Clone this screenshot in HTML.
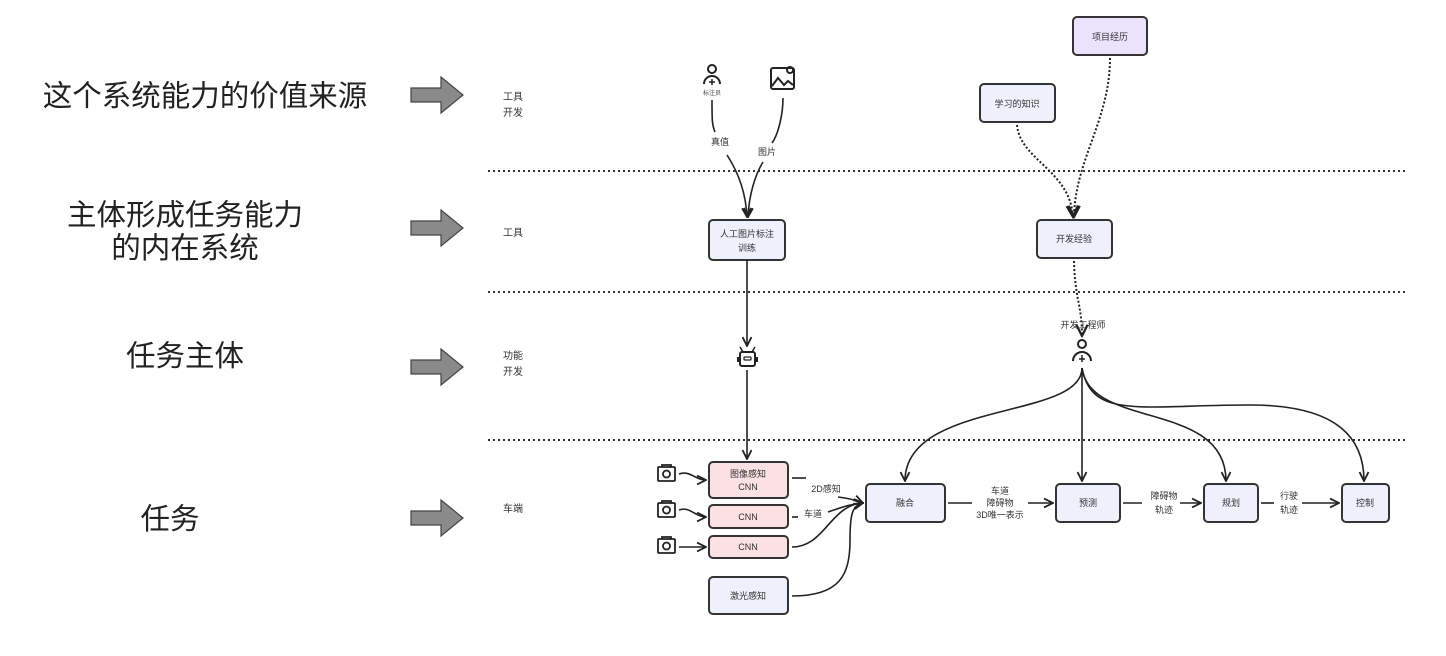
<!DOCTYPE html>
<html><head><meta charset="utf-8"><style>
html,body{margin:0;padding:0;background:#fff;}
svg{display:block;}
text{font-family:"Liberation Sans","Noto Sans CJK SC",sans-serif;}
</style></head><body>
<svg width="1446" height="656" viewBox="0 0 1446 656" xmlns="http://www.w3.org/2000/svg">
<defs>
<marker id="a" viewBox="0 0 10 10" refX="9" refY="5" markerWidth="7" markerHeight="7" orient="auto-start-reverse"><path d="M1,1 L9,5 L1,9" fill="none" stroke="#222" stroke-width="1.6"/></marker>
</defs>
<rect width="1446" height="656" fill="#fff"/>
<g font-size="29.5" fill="#222" text-anchor="middle">
<text x="205" y="106">这个系统能力的价值来源</text>
<text x="185" y="225">主体形成任务能力</text>
<text x="185" y="258">的内在系统</text>
<text x="185" y="366">任务主体</text>
<text x="170" y="529">任务</text>
</g>
<g fill="#8a8a8a" stroke="#444" stroke-width="1.2">
<path d="M411,88 H441 V77 L463,95 L441,113 V102 H411 Z"/>
<path d="M411,221 H441 V210 L463,228 L441,246 V235 H411 Z"/>
<path d="M411,360 H441 V349 L463,367 L441,385 V374 H411 Z"/>
<path d="M411,511 H441 V500 L463,518 L441,536 V525 H411 Z"/>
</g>
<g stroke="#333" stroke-width="2" stroke-dasharray="2,3">
<line x1="488" y1="171" x2="1408" y2="171"/>
<line x1="488" y1="292" x2="1408" y2="292"/>
<line x1="488" y1="440" x2="1408" y2="440"/>
</g>
<g font-size="10" fill="#333">
<text x="503" y="100">工具</text><text x="503" y="116">开发</text>
<text x="503" y="236">工具</text>
<text x="503" y="359">功能</text><text x="503" y="375">开发</text>
<text x="503" y="512">车端</text>
</g>
<g fill="none" stroke="#222" stroke-width="2">
<circle cx="712" cy="69" r="4"/>
<path d="M704,84 A8,8 0 0 1 720,84"/>
<path d="M712,79 V85 M709,82 H715" stroke-width="1.5"/>
<rect x="771" y="68" width="23" height="21" rx="2"/>
<path d="M772,86 L778,78 L784,85 L788,81 L793,85"/>
<circle cx="790" cy="70" r="3"/>
<rect x="740" y="352" width="15" height="14" rx="2"/>
<rect x="744" y="357" width="7" height="3" rx="1" stroke-width="1.3"/>
<path d="M743,352 L740,347 M752,352 L755,347" stroke-width="1.5"/>
<path d="M738,357 V362 M757,357 V362"/>
<circle cx="1082" cy="344" r="4"/>
<path d="M1073,361 A9,9 0 0 1 1091,361"/>
<path d="M1082,355 V362 M1079,359 H1085" stroke-width="1.5"/>
<g stroke-width="1.8">
<rect x="658" y="467" width="17" height="14" rx="1"/><circle cx="666.5" cy="474" r="3.5"/><path d="M662,467 V465 H671 V467"/>
<rect x="658" y="503" width="17" height="14" rx="1"/><circle cx="666.5" cy="510" r="3.5"/><path d="M662,503 V501 H671 V503"/>
<rect x="658" y="539" width="17" height="14" rx="1"/><circle cx="666.5" cy="546" r="3.5"/><path d="M662,539 V537 H671 V539"/>
</g>
</g>
<text x="712" y="95" font-size="6" fill="#444" text-anchor="middle">标注员</text>
<g stroke="#333" stroke-width="2">
<rect x="709" y="220" width="76" height="40" rx="4" fill="#eef0fb"/>
<rect x="709" y="462" width="79" height="36" rx="4" fill="#fbe1e3"/>
<rect x="709" y="505" width="79" height="23" rx="4" fill="#fbe1e3"/>
<rect x="709" y="536" width="79" height="22" rx="4" fill="#fbe1e3"/>
<rect x="709" y="577" width="79" height="37" rx="4" fill="#eef0fb"/>
<rect x="866" y="484" width="79" height="38" rx="4" fill="#eef0fb"/>
<rect x="1056" y="484" width="64" height="38" rx="4" fill="#eef0fb"/>
<rect x="1204" y="484" width="54" height="38" rx="4" fill="#eef0fb"/>
<rect x="1342" y="484" width="47" height="38" rx="4" fill="#eef0fb"/>
<rect x="1073" y="17" width="74" height="38" rx="4" fill="#ebe2fb"/>
<rect x="980" y="84" width="75" height="38" rx="4" fill="#eef0fb"/>
<rect x="1037" y="220" width="75" height="38" rx="4" fill="#eef0fb"/>
</g>
<g font-size="9" fill="#333" text-anchor="middle">
<text x="747" y="237">人工图片标注</text><text x="747" y="251">训练</text>
<text x="748" y="477">图像感知</text><text x="748" y="490">CNN</text>
<text x="748" y="520">CNN</text>
<text x="748" y="550">CNN</text>
<text x="748" y="599">激光感知</text>
<text x="905" y="506">融合</text>
<text x="1088" y="506">预测</text>
<text x="1231" y="506">规划</text>
<text x="1365" y="506">控制</text>
<text x="1110" y="40">项目经历</text>
<text x="1017" y="107">学习的知识</text>
<text x="1074" y="242">开发经验</text>
<text x="1083" y="328">开发工程师</text>
<text x="720" y="145">真值</text>
<text x="767" y="155">图片</text>
<text x="826" y="492">2D感知</text>
<text x="813" y="517">车道</text>
<text x="1000" y="494">车道</text><text x="1000" y="506">障碍物</text><text x="1000" y="518">3D唯一表示</text>
<text x="1164" y="499">障碍物</text><text x="1164" y="513">轨迹</text>
<text x="1289" y="499">行驶</text><text x="1289" y="513">轨迹</text>
</g>
<g fill="none" stroke="#222" stroke-width="1.6">
<path d="M712,100 C712,120 712,125 715,132"/>
<path d="M727,155 C740,175 746,195 747,217" marker-end="url(#a)"/>
<path d="M783,98 C783,115 778,135 772,143"/>
<path d="M763,162 C755,175 749,195 748,217" marker-end="url(#a)"/>
<path d="M747,260 V346" marker-end="url(#a)"/>
<path d="M747,370 V459" marker-end="url(#a)"/>
<path d="M679,474 C690,470 695,480 706,480" marker-end="url(#a)"/>
<path d="M679,510 C690,506 695,517 706,517" marker-end="url(#a)"/>
<path d="M679,547 H706" marker-end="url(#a)"/>
<path d="M792,478 H806"/>
<path d="M838,497 C848,498 855,500 863,503" marker-end="url(#a)"/>
<path d="M792,517 H798"/>
<path d="M828,512 C840,508 850,504 863,503" marker-end="url(#a)"/>
<path d="M792,547 C825,547 830,505 863,503" marker-end="url(#a)"/>
<path d="M792,596 C840,596 850,575 850,540 C850,515 852,505 863,503" marker-end="url(#a)"/>
<path d="M948,503 H972"/>
<path d="M1028,503 H1053" marker-end="url(#a)"/>
<path d="M1123,503 H1142"/>
<path d="M1180,503 H1201" marker-end="url(#a)"/>
<path d="M1261,503 H1274"/>
<path d="M1302,503 H1339" marker-end="url(#a)"/>
<path d="M1082,368 C1082,420 905,400 905,481" marker-end="url(#a)"/>
<path d="M1082,368 V481" marker-end="url(#a)"/>
<path d="M1082,368 C1090,430 1226,400 1226,481" marker-end="url(#a)"/>
<path d="M1082,368 C1092,420 1140,405 1250,405 C1340,405 1364,440 1364,481" marker-end="url(#a)"/>
</g>
<g fill="none" stroke="#222" stroke-width="2" stroke-dasharray="2,2">
<path d="M1017,125 C1020,160 1070,170 1073,217" marker-end="url(#a)"/>
<path d="M1110,58 C1110,120 1075,160 1074,217" marker-end="url(#a)"/>
<path d="M1074,261 C1075,300 1082,305 1082,336" marker-end="url(#a)"/>
</g>
</svg>
</body></html>
